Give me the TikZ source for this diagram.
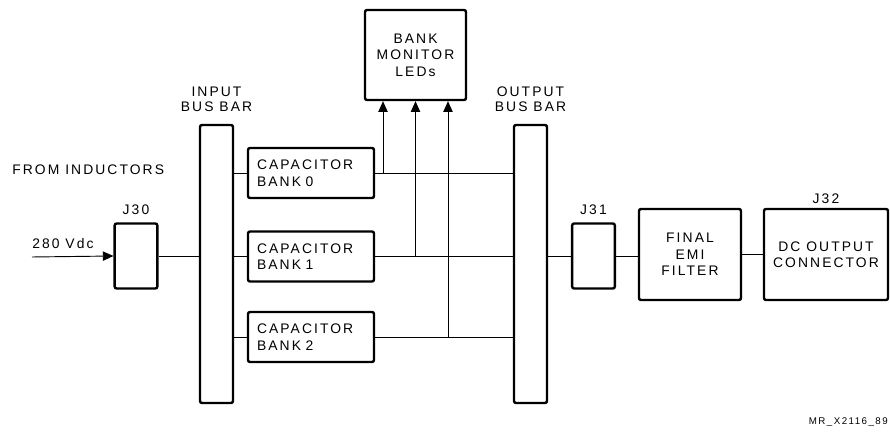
\documentclass[tikz,border=0pt]{standalone}
\usepackage{fontspec}
\newfontfamily\diagfont{Liberation Sans}[LetterSpace=15]
\usepackage{tikz}
\usetikzlibrary{arrows.meta,positioning,calc}
\tikzset{
  blockBox/.style={rectangle,draw,line width=1.8pt,rounded corners=1.5pt,align=center,
                   font=\diagfont\fontsize{10.4}{12.4}\selectfont},
  busBar/.style={blockBox,minimum width=24.75pt,minimum height=208.5pt},
  bankBox/.style={blockBox,minimum width=94.5pt,minimum height=37.5pt,
                  align=left,text width=81pt},
  jackBox/.style={blockBox,minimum width=32pt,minimum height=48.75pt},
  wire/.style={line width=0.7pt},
  sigArrow/.style={wire,-{Triangle[length=8pt,width=7pt]}},
}

\begin{document}
\begin{tikzpicture}[
  x=0.75pt,y=-0.75pt,
  capLabel/.style={inner sep=0pt,align=center,font=\diagfont\fontsize{10.4}{11.3}\selectfont},
  tagLabel/.style={inner sep=0pt,font=\diagfont\fontsize{7.3}{8}\selectfont}
]
  \useasboundingbox (0,0) rectangle (890,438);
  % bus bars and capacitor banks
  \node[busBar](inbar)  at (216.5,264) {};
  \node[busBar](outbar) at (530.5,264) {};
  \node[capLabel,above=9pt of inbar]  {INPUT\\BUS BAR};
  \node[capLabel,above=9pt of outbar] {OUTPUT\\BUS BAR};
  \node[bankBox](bank0) at (311,173)   {CAPACITOR\\BANK 0};
  \node[bankBox](bank1) at (311,256.5) {CAPACITOR\\BANK 1};
  \node[bankBox](bank2) at (311,337)   {CAPACITOR\\BANK 2};
  \node[blockBox,minimum width=75.75pt,minimum height=67.5pt](leds) at (415.5,55)
      {BANK\\MONITOR\\LEDs};
  % connectors and filter chain
  \node[jackBox](j30) at (136,256)   {};
  \node[jackBox](j31) at (593.5,256) {};
  \node[blockBox,minimum width=76.5pt,minimum height=68.25pt](emi) at (690,254.5)
      {FINAL\\EMI\\FILTER};
  \node[blockBox,minimum width=93pt,minimum height=68.25pt](dcout) at (826,254.5)
      {DC OUTPUT\\CONNECTOR};
  \node[capLabel,above=5.25pt of j30]  {J30};
  \node[capLabel,above=5.25pt of j31]  {J31};
  \node[capLabel,above=3pt of dcout]   {J32};
  \coordinate (vin) at (32,257);
  \node[capLabel,anchor=west](src) at (12,170) {FROM INDUCTORS};
  \node[capLabel,above right=6pt and 0pt of vin](vdc) {280 Vdc};
  \draw[sigArrow](vin)--(j30.west);
  \draw[wire](j30.east)--(inbar.west |- j30.east);
  \foreach \b in {0,1,2}{
    \draw[wire](inbar.east |- bank\b.west)--(bank\b.west);
    \draw[wire](bank\b.east)--(outbar.west |- bank\b.east);
  }
  \foreach \b/\dx in {0/-32.5,1/0,2/32.5}{
    \coordinate (tap\b) at ($(leds.south)+(\dx,0)$);
    \draw[sigArrow](tap\b |- bank\b.east)--(tap\b);
  }
  \draw[wire](outbar.east |- j31.west)--(j31.west);
  \draw[wire](j31.east)--(emi.west |- j31.east);
  \draw[wire](emi.east)--(dcout.west);
  \node[tagLabel,anchor=east](figtag) at (888,422) {MR\_X2116\_89};
\end{tikzpicture}
\end{document}
